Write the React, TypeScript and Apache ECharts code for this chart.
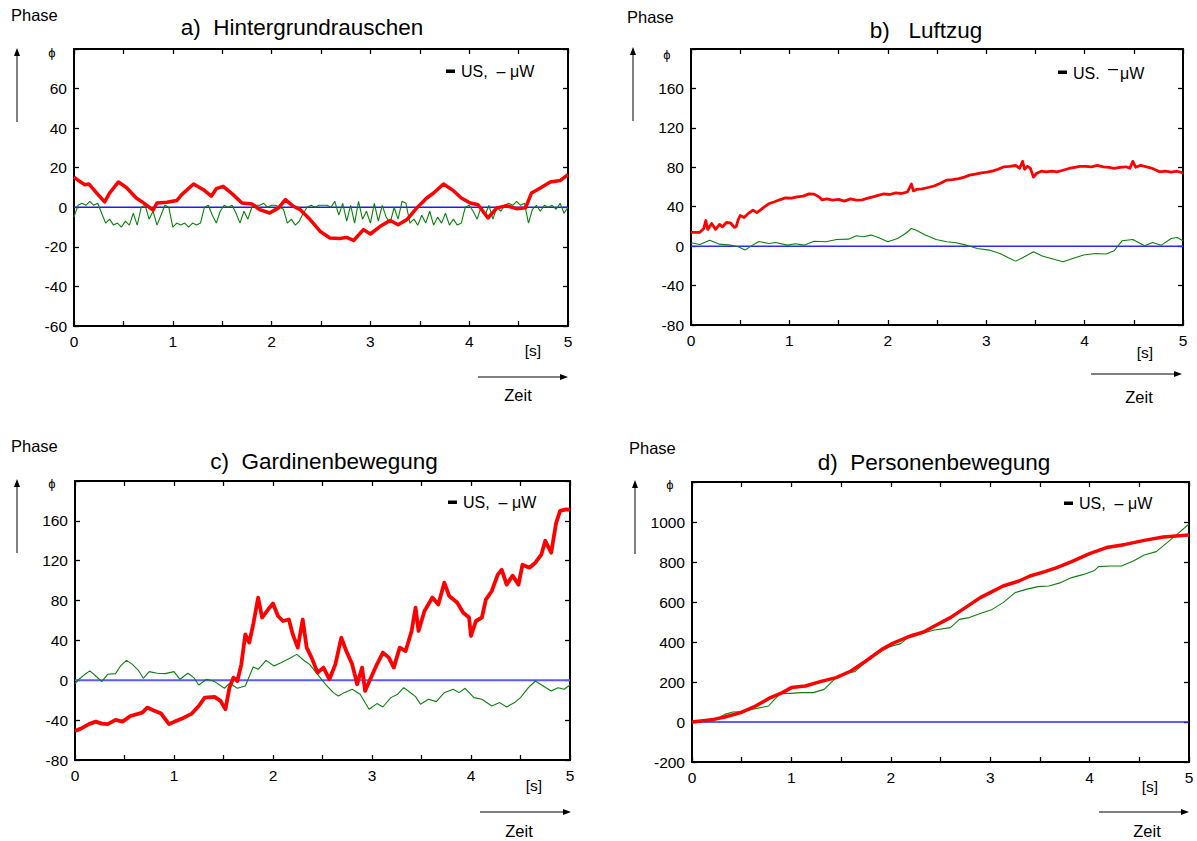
import { useEffect, useRef } from 'react';
import * as echarts from 'echarts';

const FONT = '"Liberation Sans", Arial, Helvetica, sans-serif';

// ---------- Panel a) Hintergrundrauschen ----------
const A_RED_T = [0, 0.06, 0.11, 0.15, 0.23, 0.31, 0.36, 0.45, 0.53, 0.63, 0.69, 0.75, 0.8, 0.84, 0.94, 1.04, 1.09, 1.21, 1.31, 1.39, 1.44, 1.51, 1.61, 1.7, 1.8, 1.88, 1.98, 2.07, 2.14, 2.22, 2.29, 2.39, 2.49, 2.59, 2.69, 2.76, 2.83, 2.93, 3.0, 3.1, 3.2, 3.28, 3.37, 3.47, 3.57, 3.64, 3.74, 3.84, 3.92, 4.01, 4.09, 4.19, 4.28, 4.38, 4.48, 4.57, 4.63, 4.72, 4.82, 4.92, 5.0];
const A_RED = [15.2, 13, 11.4, 11.8, 7.2, 2.7, 7.2, 12.8, 10, 4.7, 2.7, 0.5, -1.5, 2.2, 2.5, 3.4, 6.4, 11.8, 8.9, 5.6, 9.4, 10.6, 6.4, 2.2, 1.7, -1.2, -2.9, -0.3, 3.9, 0.5, -1.2, -6.2, -12.1, -15.5, -15.8, -15.2, -16.8, -11.3, -13.5, -9.6, -6.7, -8.8, -6.2, -0.3, 4.7, 7.2, 11.8, 8.4, 4.7, 2.2, 1.3, -5.4, -0.3, 0.8, -0.7, -0.3, 7.2, 9.8, 12.8, 13.5, 16.5];
const A_GREEN_DT = 0.04;
const A_GREEN = [-5, 1, 2, 1, 3, 1, 2, -3, -8, -6, -9, -8, -10, -7, -9, -3, -9, 0, 1, -6, -2, -9, -4, 1, 0, -10, -8, -9, -8, -10, -8, -9, -8, 0, 1, -4, -8, -2, 1, 0, 1, -3, -8, -2, -6, 0, 1, 1, 2, 0, 1, 1, 0, -1, -8, -6, -9, -7, -3, 0, 1, 0, 1, 1, 1, 0, 3, -4, 2, -7, 1, -8, 3, -6, -2, -8, 2, -7, 1, -5, -8, 0, -6, 3, 2, -8, -6, -9, -4, -8, -2, -9, -5, -8, -3, -9, -6, -9, -8, 0, 1, -2, -6, 0, -4, 1, -6, 0, -2, 1, 2, 1, 3, 1, 2, -8, -1, 1, -2, 1, 0, 1, -1, 2, -3, 0];

// ---------- Panel b) Luftzug ----------
const B_RED_T = [0, 0.09, 0.13, 0.15, 0.17, 0.21, 0.25, 0.29, 0.32, 0.36, 0.4, 0.44, 0.46, 0.48, 0.5, 0.54, 0.58, 0.63, 0.67, 0.71, 0.75, 0.79, 0.85, 0.9, 0.96, 1.02, 1.08, 1.14, 1.2, 1.25, 1.3, 1.33, 1.38, 1.44, 1.5, 1.56, 1.62, 1.68, 1.74, 1.79, 1.85, 1.91, 1.96, 2.02, 2.08, 2.14, 2.2, 2.24, 2.26, 2.29, 2.35, 2.41, 2.47, 2.53, 2.6, 2.66, 2.72, 2.78, 2.83, 2.89, 2.95, 3.01, 3.07, 3.12, 3.18, 3.24, 3.3, 3.34, 3.37, 3.39, 3.42, 3.45, 3.48, 3.51, 3.56, 3.61, 3.67, 3.72, 3.78, 3.84, 3.9, 3.95, 4.01, 4.07, 4.13, 4.19, 4.25, 4.3, 4.36, 4.42, 4.46, 4.49, 4.52, 4.57, 4.61, 4.65, 4.69, 4.73, 4.76, 4.82, 4.88, 4.94, 5.0];
const B_RED = [14, 14, 18, 26, 17, 23, 17, 22, 19.6, 24, 23.7, 19, 20, 27, 31, 29, 33, 36.5, 34, 37, 40, 43, 45, 47, 49, 48.7, 50, 50.7, 53, 52.8, 50, 47, 48, 46.7, 47.5, 45.7, 48, 46.7, 47, 48.4, 50, 51.7, 53, 52.4, 54, 53.4, 55, 63, 56, 57.5, 58, 59.5, 61, 63.6, 67, 67.5, 68.6, 70, 72, 73, 74.4, 75, 76.4, 78, 80.5, 81, 81.8, 79, 86, 78, 81, 78.8, 70, 73.7, 76, 75.4, 76, 75.4, 77, 78.8, 80, 81, 81, 80.5, 82, 80.5, 80, 78.8, 80, 80.5, 79, 86, 80, 82, 81, 80, 78.8, 77, 75.4, 76, 75, 76, 74.4];
const B_GREEN_T = [0, 0.09, 0.19, 0.29, 0.4, 0.48, 0.55, 0.61, 0.69, 0.79, 0.86, 0.98, 1.06, 1.15, 1.25, 1.37, 1.48, 1.6, 1.68, 1.75, 1.83, 1.91, 2.0, 2.1, 2.18, 2.24, 2.29, 2.37, 2.49, 2.6, 2.68, 2.8, 2.91, 3.03, 3.14, 3.22, 3.3, 3.37, 3.48, 3.57, 3.66, 3.78, 3.88, 3.99, 4.11, 4.22, 4.3, 4.38, 4.49, 4.61, 4.69, 4.78, 4.88, 4.94, 5.0];
const B_GREEN = [3.4, 1.7, 6, 2, 1, -0.7, -4, 0, 4.7, 2.7, 3.7, 1, 2.4, 1, 5, 4.4, 6.8, 7.1, 10.5, 9.5, 11.2, 8.5, 4.4, 7.8, 12.8, 17.9, 16.2, 11.8, 6.8, 4.4, 3.7, 1, -2.4, -4, -7.4, -11.5, -15.2, -11.8, -5.7, -10, -12.5, -15.9, -12.5, -9, -7.4, -8, -4.7, 5.4, 6.8, 0.3, 3.7, 1, 7.8, 8.8, 5.4];

// ---------- Panel c) Gardinenbewegung ----------
const C_RED_T = [0, 0.06, 0.14, 0.21, 0.27, 0.33, 0.41, 0.48, 0.56, 0.68, 0.73, 0.79, 0.87, 0.95, 1.02, 1.1, 1.18, 1.25, 1.31, 1.41, 1.47, 1.52, 1.56, 1.6, 1.64, 1.68, 1.72, 1.76, 1.8, 1.85, 1.89, 1.95, 2.0, 2.05, 2.1, 2.16, 2.2, 2.25, 2.3, 2.34, 2.39, 2.45, 2.51, 2.57, 2.63, 2.69, 2.74, 2.8, 2.85, 2.9, 2.93, 2.99, 3.05, 3.11, 3.17, 3.22, 3.28, 3.34, 3.4, 3.44, 3.47, 3.53, 3.61, 3.67, 3.73, 3.78, 3.86, 3.92, 3.98, 4.0, 4.05, 4.11, 4.15, 4.21, 4.27, 4.31, 4.36, 4.42, 4.48, 4.52, 4.59, 4.65, 4.71, 4.75, 4.81, 4.86, 4.9, 4.96, 5.0];
const C_RED = [-50.8, -48.5, -44, -41.5, -43.5, -44, -39.8, -41.5, -35.8, -32.4, -27.4, -30, -33.4, -44, -40.8, -37.5, -33.4, -25.8, -17.4, -16.7, -20.7, -29, -7.4, 2.7, -0.7, 16, 46, 37.8, 56, 83, 63, 71, 77, 64.5, 59.5, 61, 46, 32.8, 61, 32.8, 22.7, 7.7, 12.7, 1, 16, 42.8, 29.4, 16, -4, 12.7, -10.7, 2.7, 16, 27.8, 22.7, 12.7, 32.8, 29.4, 49.5, 73, 49.5, 69.6, 83, 76, 98, 84.6, 78, 68, 63, 44.5, 59.5, 63, 81, 89.6, 106, 111, 96, 105, 96, 116, 113, 118, 126, 140, 128, 158, 170, 171.6, 171];
const C_GREEN_T = [0, 0.04, 0.1, 0.15, 0.21, 0.27, 0.33, 0.41, 0.46, 0.52, 0.58, 0.64, 0.69, 0.75, 0.83, 0.91, 1.0, 1.06, 1.14, 1.2, 1.25, 1.33, 1.41, 1.51, 1.56, 1.64, 1.72, 1.8, 1.85, 1.93, 2.01, 2.08, 2.16, 2.24, 2.32, 2.37, 2.45, 2.53, 2.61, 2.66, 2.72, 2.8, 2.88, 2.97, 3.05, 3.11, 3.19, 3.26, 3.32, 3.38, 3.44, 3.49, 3.57, 3.65, 3.73, 3.82, 3.88, 3.94, 4.03, 4.11, 4.21, 4.29, 4.36, 4.44, 4.5, 4.58, 4.65, 4.73, 4.81, 4.88, 4.94, 5.0];
const C_GREEN = [-3.3, 1, 6, 9.4, 4.3, -1.3, 6, 6.7, 14.4, 20, 16, 10, 2, 8.7, 7, 6.7, 8.7, 1, 7, 2.7, -4.7, 1, -1.3, -8, -3, -8, -5.7, 13.4, 11, 20, 14.4, 17.7, 21.7, 26, 19.4, 16, 6, -4, -12.4, -15.7, -12.4, -9, -14, -29, -23.4, -26.8, -17.4, -14, -7.4, -11.7, -16.4, -24, -19, -21.4, -12.4, -9, -12.4, -8, -17.4, -19, -25.8, -22.4, -26.8, -22.4, -17.4, -7.4, -0.7, -5.7, -10.7, -7.4, -9, -4.7];

// ---------- Panel d) Personenbewegung ----------
const D_RED_T = [0, 0.22, 0.33, 0.49, 0.64, 0.79, 0.91, 1.0, 1.14, 1.29, 1.45, 1.6, 1.75, 1.91, 2.02, 2.17, 2.33, 2.44, 2.6, 2.75, 2.9, 2.98, 3.13, 3.29, 3.4, 3.55, 3.67, 3.82, 4.0, 4.17, 4.36, 4.55, 4.74, 5.0];
const D_RED = [0, 13, 25, 47, 80, 122, 147, 172, 180, 202, 222, 255, 305, 363, 393, 425, 450, 480, 522, 572, 622, 642, 680, 705, 730, 752, 772, 802, 842, 872, 888, 908, 925, 935];
const D_GREEN_T = [0, 0.22, 0.33, 0.41, 0.53, 0.6, 0.72, 0.77, 0.83, 0.89, 0.99, 1.1, 1.22, 1.33, 1.45, 1.56, 1.64, 1.75, 1.91, 1.98, 2.1, 2.21, 2.33, 2.44, 2.6, 2.69, 2.79, 2.9, 3.02, 3.13, 3.25, 3.36, 3.48, 3.59, 3.71, 3.82, 3.94, 4.05, 4.09, 4.21, 4.32, 4.44, 4.55, 4.67, 4.78, 4.9, 5.0];
const D_GREEN = [0, 8, 38, 50, 52, 63, 75, 80, 113, 143, 143, 147, 147, 163, 222, 247, 252, 302, 355, 375, 392, 438, 445, 460, 472, 513, 522, 542, 563, 597, 647, 663, 677, 680, 697, 722, 738, 758, 777, 780, 780, 805, 835, 852, 897, 947, 990];

const X_MIN = 0;
const X_MAX = 5;
const X_STEP = 0.5;

const PANELS = [
  { title: 'a)  Hintergrundrauschen', yMin: -60, yMax: 80, yStep: 20, red: [A_RED_T, A_RED], green: [A_GREEN.map((_, i) => i * A_GREEN_DT), A_GREEN], redW: 3.5, blue: '#1a1aff', blueW: 1.5 },
  { title: 'b)   Luftzug', yMin: -80, yMax: 200, yStep: 40, red: [B_RED_T, B_RED], green: [B_GREEN_T, B_GREEN], redW: 2.8, blue: '#2a2aff', blueW: 1.5 },
  { title: 'c)  Gardinenbewegung', yMin: -80, yMax: 200, yStep: 40, red: [C_RED_T, C_RED], green: [C_GREEN_T, C_GREEN], redW: 3.8, blue: '#5a5aff', blueW: 2 },
  { title: 'd)  Personenbewegung', yMin: -200, yMax: 1200, yStep: 200, red: [D_RED_T, D_RED], green: [D_GREEN_T, D_GREEN], redW: 3.5, blue: '#2a2aff', blueW: 1.5 },
];

// layout (pixels)
const GRIDS = [
  { left: 74, top: 49, width: 494, height: 277 },
  { left: 691, top: 49, width: 492, height: 276 },
  { left: 75, top: 481, width: 495, height: 279 },
  { left: 692, top: 482, width: 497, height: 280 },
];

const DECOR = [
  { tx: 302, ty: 27, px: 11, py: 15, ax: 17, ay1: 122, ay2: 48, phx: 52, phy: 52, lx: 446, ly: 71, sx: 533, sy: 350, zx1: 478, zx2: 568, zy: 377, zt: 518, zty: 395, raised: false },
  { tx: 926, ty: 30, px: 627, py: 17, ax: 633, ay1: 121, ay2: 47, phx: 667, phy: 54, lx: 1058, ly: 72, sx: 1145, sy: 352, zx1: 1091, zx2: 1182, zy: 374, zt: 1139, zty: 397, raised: true },
  { tx: 324, ty: 461, px: 11, py: 446, ax: 17, ay1: 553, ay2: 479, phx: 52, phy: 483, lx: 448, ly: 502, sx: 534, sy: 785, zx1: 480, zx2: 571, zy: 812, zt: 519, zty: 831, raised: false },
  { tx: 934, ty: 462, px: 629, py: 448, ax: 635, ay1: 554, ay2: 480, phx: 670, phy: 484, lx: 1064, ly: 503, sx: 1150, sy: 786, zx1: 1099, zx2: 1189, zy: 812, zt: 1147, zty: 831, raised: false },
];

function zip(t: number[], v: number[]) {
  return t.map((x, i) => [x, v[i]]);
}

function txt(x: number, y: number, text: string, size: number, align = 'center') {
  return {
    type: 'text', x, y, z: 100,
    style: { text, fontSize: size, fontFamily: FONT, fill: '#000', align, verticalAlign: 'middle', textAlign: align, textVerticalAlign: 'middle' },
  };
}

export default function App() {
  const ref = useRef<HTMLDivElement>(null);
  useEffect(() => {
    if (!ref.current) return;
    const chart = echarts.init(ref.current, undefined, { renderer: 'svg' });
    const xAxis: any[] = [];
    const yAxis: any[] = [];
    const series: any[] = [];
    const graphic: any[] = [];
    PANELS.forEach((p, i) => {
      const common = {
        gridIndex: i, type: 'value',
        axisLine: { onZero: false, lineStyle: { color: '#000', width: 2 } },
        axisTick: { inside: true, length: 5, lineStyle: { color: '#000', width: 1.3 } },
        splitLine: { show: false },
      };
      xAxis.push({
        ...common, position: 'bottom', min: X_MIN, max: X_MAX, interval: X_STEP,
        axisLabel: { fontSize: 15.5, fontFamily: FONT, color: '#000', margin: 7, formatter: (v: number) => (Number.isInteger(v) ? String(v) : '') },
      });
      xAxis.push({ ...common, position: 'top', min: X_MIN, max: X_MAX, interval: X_STEP, axisLabel: { show: false } });
      yAxis.push({
        ...common, position: 'left', min: p.yMin, max: p.yMax, interval: p.yStep,
        axisLabel: { fontSize: 15.5, fontFamily: FONT, color: '#000', margin: 7, formatter: (v: number) => (v === p.yMax ? '' : String(v)) },
      });
      yAxis.push({ ...common, position: 'right', min: p.yMin, max: p.yMax, interval: p.yStep, axisLabel: { show: false } });
      const base = { type: 'line', xAxisIndex: 2 * i, yAxisIndex: 2 * i, symbol: 'none', showSymbol: false, silent: true };
      series.push({ ...base, data: [[X_MIN, 0], [X_MAX, 0]], lineStyle: { color: p.blue, width: p.blueW }, z: 1 });
      series.push({ ...base, data: zip(p.green[0], p.green[1]), lineStyle: { color: '#0b800b', width: 1.1 }, z: 2 });
      series.push({ ...base, data: zip(p.red[0], p.red[1]), lineStyle: { color: '#ff0000', width: p.redW, join: 'round' }, z: 3 });

      const d = DECOR[i];
      graphic.push(txt(d.tx, d.ty, p.title, 22.5));
      graphic.push(txt(d.px, d.py, 'Phase', 16.5, 'left'));
      graphic.push(txt(d.phx, d.phy, 'ϕ', 13));
      graphic.push({ type: 'line', shape: { x1: d.ax, y1: d.ay1, x2: d.ax, y2: d.ay2 + 6 }, style: { stroke: '#000', lineWidth: 1 } });
      graphic.push({ type: 'polygon', shape: { points: [[d.ax - 3, d.ay2 + 8], [d.ax + 3, d.ay2 + 8], [d.ax, d.ay2]] }, style: { fill: '#000' } });
      graphic.push({ type: 'line', shape: { x1: d.zx1, y1: d.zy, x2: d.zx2 - 6, y2: d.zy }, style: { stroke: '#000', lineWidth: 1 } });
      graphic.push({ type: 'polygon', shape: { points: [[d.zx2 - 8, d.zy - 3], [d.zx2 - 8, d.zy + 3], [d.zx2, d.zy]] }, style: { fill: '#000' } });
      graphic.push(txt(d.zt, d.zty, 'Zeit', 16.5));
      graphic.push(txt(d.sx, d.sy, '[s]', 15.5));
      // legend text
      graphic.push({ type: 'rect', shape: { x: d.lx, y: d.ly - 1.5, width: 9, height: 3.5 }, style: { fill: '#000' } });
      if (d.raised) {
        graphic.push(txt(d.lx + 15, d.ly + 1, 'US.', 16, 'left'));
        graphic.push({ type: 'rect', shape: { x: d.lx + 50, y: d.ly - 3, width: 10, height: 1.2 }, style: { fill: '#000' } });
        graphic.push(txt(d.lx + 62, d.ly + 1, 'μW', 16, 'left'));
      } else {
        graphic.push(txt(d.lx + 15, d.ly, 'US,  – μW', 16, 'left'));
      }
    });
    chart.setOption({
      animation: false,
      backgroundColor: '#fff',
      grid: GRIDS.map((g) => ({ ...g, containLabel: false })),
      xAxis, yAxis, series, graphic,
    });
    return () => chart.dispose();
  }, []);
  return <div ref={ref} style={{ position: 'absolute', left: 0, top: 0, width: 1197, height: 841 }} />;
}
